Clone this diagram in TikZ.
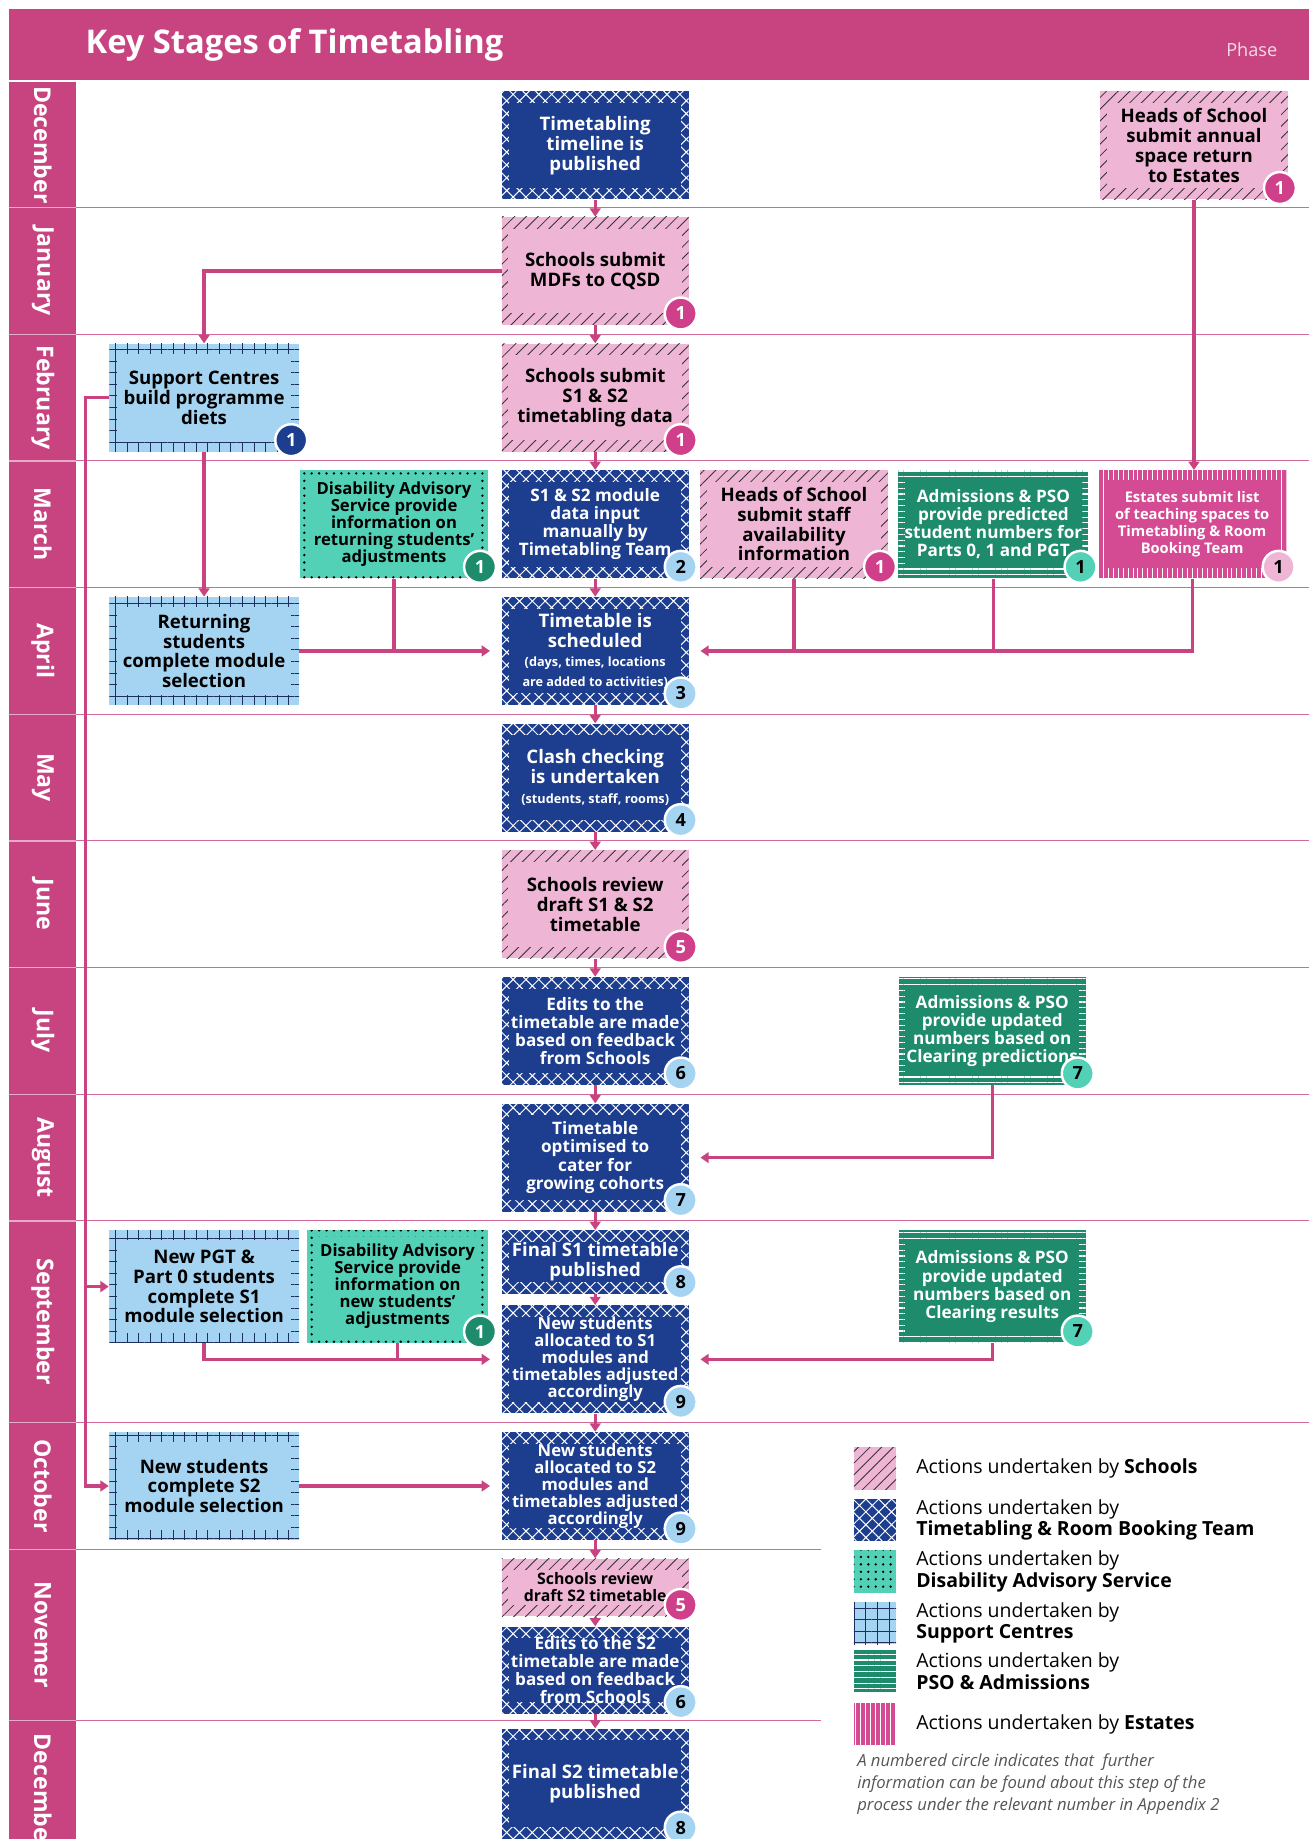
\documentclass[tikz,border=0pt]{standalone}
\usepackage{fontspec}
\setmainfont{Open Sans}
\usetikzlibrary{positioning,arrows.meta,patterns.meta}

\definecolor{headpink}{HTML}{C74480}
\definecolor{linkpink}{HTML}{C8437F}
\definecolor{ttblue}{HTML}{1D3E8E}
\definecolor{schoolpink}{HTML}{EEB6D4}
\definecolor{schoolbadge}{HTML}{D03F8A}
\definecolor{dasteal}{HTML}{52D1B7}
\definecolor{scblue}{HTML}{A4D4F1}
\definecolor{scline}{HTML}{1C2F5E}
\definecolor{psogreen}{HTML}{1E8C6C}
\definecolor{estpink}{HTML}{D44A93}
\definecolor{notegray}{HTML}{555555}

\newcommand\notefont{\fontsize{7.7}{8.6}\selectfont}

\tikzset{
  schoolpat/.style={pattern={Lines[angle=45,distance=5pt,line width=0.5pt]},pattern color=black!80},
  ttpat/.style={pattern={Hatch[angle=45,distance=5.5pt,line width=0.6pt]},pattern color=white},
  daspat/.style={pattern={Dots[distance=4.5pt,radius=0.8pt]},pattern color=black},
  scpat/.style={pattern={Hatch[angle=0,distance=7pt,line width=0.5pt]},pattern color=scline},
  psopat/.style={pattern={Lines[angle=0,distance=3.5pt,line width=0.7pt]},pattern color=white},
  estpat/.style={pattern={Lines[angle=90,distance=3pt,line width=0.6pt]},pattern color=white},
  banded/.style n args={4}{fill=#1,path picture={
    \path[#2] (path picture bounding box.south west) rectangle (path picture bounding box.north east);
    \fill[#1] ([shift={(#3,#4)}]path picture bounding box.south west) rectangle ([shift={(-#3,-#4)}]path picture bounding box.north east);}},
  stage/.style={rectangle,align=center,inner sep=1pt,minimum width=3.98cm,minimum height=2.3cm,
    font=\bfseries\fontsize{11.3}{12}\selectfont},
  dense/.style={font=\bfseries\fontsize{10.4}{11}\selectfont},
  tight/.style={font=\bfseries\fontsize{10.1}{10.3}\selectfont},
  slim/.style={font=\bfseries\fontsize{8.9}{10.4}\selectfont},
  schoolbox/.style={stage,banded={schoolpink}{schoolpat}{4pt}{7pt},text=black},
  ttbox/.style={stage,banded={ttblue}{ttpat}{4.5pt}{7pt},text=white},
  dasbox/.style={stage,banded={dasteal}{daspat}{4pt}{4pt},text=black},
  scbox/.style={stage,banded={scblue}{scpat}{5pt}{6pt},text=black},
  psobox/.style={stage,banded={psogreen}{psopat}{4pt}{6pt},text=white},
  estbox/.style={stage,banded={estpink}{estpat}{4pt}{6pt},text=white},
  badge/.style 2 args={circle,fill=#1,text=#2,draw=white,line width=1.5pt,minimum size=0.68cm,
    inner sep=0pt,font=\bfseries\fontsize{11}{11}\selectfont},
  link/.style={draw=linkpink,line width=2pt},
  flow/.style={link,-{Triangle[length=5pt,width=6.5pt]}},
  gap/.style={shorten >=7pt},
  rowline/.style={draw=linkpink!80,line width=0.6pt},
  month/.style={rotate=-90,text=white,font=\bfseries\fontsize{14}{14}\selectfont},
  swatch/.style={minimum size=0.9cm,inner sep=0pt},
  legtext/.style={anchor=west,align=left,font=\fontsize{11.8}{13}\selectfont}
}

\begin{document}
\begin{tikzpicture}[x=0.025cm,y=-0.025cm]
\useasboundingbox (0,0) rectangle (1116,1568);
% header and month band
\fill[headpink] (8,8) rectangle (1116,68);
\node[anchor=west,text=white,font=\bfseries\fontsize{19.8}{22}\selectfont] (title) at (68,38) {Key Stages of Timetabling};
\node[anchor=east,text=white!80!headpink,font=\fontsize{11}{11}\selectfont] (phase) at (1094,42) {Phase};
\fill[headpink] (8,70) rectangle (65,1568);
\foreach \mon/\top/\bot [count=\i] in {December/70/177,January/177/285,February/285/393,March/393/501,
    April/501/609,May/609/717,June/717/825,July/825/933,August/933/1041,September/1041/1213,
    October/1213/1321,Novemer/1321/1467,December/1467/1590}{
  \node[month] (month\i) at (36.5,{(\top+\bot)/2}) {\mon};
  \draw[white!55!headpink,line width=0.8pt] (8,\bot) -- (65,\bot);
}
\foreach \y in {177,285,393,501,609,717,825,933,1041,1213}
  \draw[rowline] (65,\y) -- (1116,\y);
\foreach \y in {1321,1467}
  \draw[rowline] (65,\y) -- (700,\y);

% main column
\node[ttbox] (pub) at (507.5,124) {Timetabling\\timeline is\\published};
\node[schoolbox] (mdf) at (507.5,231) {Schools submit\\MDFs to CQSD};
\node[schoolbox] (s1s2) at (507.5,339) {Schools submit\\S1 \& S2\\timetabling data};
\node[ttbox,dense] (modin) at (507.5,447) {S1 \& S2 module\\data input\\manually by\\Timetabling Team};
\node[ttbox] (sched) at (507.5,555) {Timetable is\\scheduled\\{\notefont (days, times, locations}\\{\notefont are added to activities)}};
\node[ttbox] (clash) at (507.5,663) {Clash checking\\is undertaken\\{\notefont (students, staff, rooms)}};
\node[schoolbox] (review1) at (507.5,771) {Schools review\\draft S1 \& S2\\timetable};
\node[ttbox,dense] (edits1) at (507.5,879) {Edits to the\\timetable are made\\based on feedback\\from Schools};
\node[ttbox,dense] (optim) at (507.5,987) {Timetable\\optimised to\\cater for\\growing cohorts};
\node[ttbox,minimum height=1.35cm] (finals1) at (507.5,1076) {Final S1 timetable\\published};
\node[ttbox,tight] (allocs1) at (507.5,1159) {New students\\allocated to S1\\modules and\\timetables adjusted\\accordingly};
\node[ttbox,tight] (allocs2) at (507.5,1267) {New students\\allocated to S2\\modules and\\timetables adjusted\\accordingly};
\node[schoolbox,font=\bfseries\fontsize{9.6}{10.3}\selectfont,minimum height=1.23cm] (review2) at (507.5,1353.5) {Schools review\\draft S2 timetable\hspace{6pt}};
\node[ttbox,dense,minimum height=1.85cm] (edits2) at (507.5,1424) {Edits to the S2\\timetable are made\\based on feedback\\from Schools};
\node[ttbox,minimum height=2.35cm] (finals2) at (507.5,1521) {Final S2 timetable\\published};

% left columns
\node[scbox,minimum width=4.05cm] (sc1) at (174,339) {Support Centres\\build programme\\diets};
\node[scbox,minimum width=4.05cm] (returning) at (174,555) {Returning\\students\\complete module\\selection};
\node[scbox,minimum width=4.05cm,minimum height=2.4cm] (newpgt) at (174,1097) {New PGT \&\\Part 0 students\\complete S1\\module selection};
\node[scbox,minimum width=4.05cm] (news2) at (174,1267) {New students\\complete S2\\module selection};
\node[dasbox,tight,minimum width=4cm] (das1) at (336,447) {Disability Advisory\\Service provide\\information on\\returning students'\\adjustments};
\node[dasbox,tight,minimum width=3.85cm,minimum height=2.4cm] (das2) at (339,1097) {Disability Advisory\\Service provide\\information on\\new students'\\adjustments};

% right columns
\node[schoolbox,minimum width=4cm] (annual) at (1018,124) {Heads of School\\submit annual\\space return\\to Estates};
\node[schoolbox,minimum width=4cm] (hosstaff) at (677,447) {Heads of School\\submit staff\\availability\\information};
\node[psobox,dense,minimum width=4.05cm] (pso1) at (847,447) {Admissions \& PSO\\provide predicted\\student numbers for\\Parts 0, 1 and PGT};
\node[estbox,slim,minimum width=4.02cm] (estates) at (1016.5,447) {Estates submit list\\of teaching spaces to\\Timetabling \& Room\\Booking Team};
\node[psobox,dense] (psojul) at (846,879) {Admissions \& PSO\\provide updated\\numbers based on\\Clearing predictions};
\node[psobox,dense,minimum height=2.4cm] (psosep) at (846,1097) {Admissions \& PSO\\provide updated\\numbers based on\\Clearing results};

% connectors
\draw[flow] (pub) -- (mdf);
\draw[flow] (mdf.west) -| (sc1.north);
\draw[flow] (annual.south) -- (annual.south |- estates.north);
\draw[flow] (sc1) -- (returning);
\coordinate (spine) at (73,0);
\draw[flow] (sc1.west) -- (sc1.west -| spine) |- (news2.west);
\draw[flow] (spine |- newpgt.west) -- (newpgt.west);
\draw[flow,gap] (returning.east) -- (sched.west);
\draw[link] (das1.south) -- (das1.south |- sched.west);
\draw[flow,gap] (estates.south) |- (sched.east);
\draw[link] (hosstaff.south) -- (hosstaff.south |- sched.east);
\draw[link] (pso1.south) -- (pso1.south |- sched.east);
\foreach \a/\b in {mdf/s1s2,s1s2/modin,modin/sched,sched/clash,clash/review1,review1/edits1,edits1/optim,
    optim/finals1,finals1/allocs1,allocs1/allocs2,allocs2/review2,review2/edits2,edits2/finals2}
  \draw[flow] (\a) -- (\b);
\draw[flow,gap] (psojul.south) |- (optim.east);
\draw[flow,gap] (newpgt.south) |- (allocs1.west);
\draw[link] (das2.south) -- (das2.south |- allocs1.west);
\draw[flow,gap] (psosep.south) |- (allocs1.east);
\draw[flow,gap] (news2.east) -- (allocs2.west);

% numbered circles
\foreach \nd/\num/\col/\ink in {mdf/1/schoolbadge/white,s1s2/1/schoolbadge/white,annual/1/schoolbadge/white,
    hosstaff/1/schoolbadge/white,review1/5/schoolbadge/white,review2/5/schoolbadge/white,
    sc1/1/ttblue/white,das1/1/psogreen/white,das2/1/psogreen/white,
    pso1/1/dasteal/black,psojul/7/dasteal/black,psosep/7/dasteal/black,estates/1/schoolpink/black,
    modin/2/scblue/black,sched/3/scblue/black,clash/4/scblue/black,edits1/6/scblue/black,
    optim/7/scblue/black,finals1/8/scblue/black,allocs1/9/scblue/black,allocs2/9/scblue/black,
    edits2/6/scblue/black,finals2/8/scblue/black}
  \node[badge={\col}{\ink}] (b-\nd) at ([shift={(-7,-10)}]\nd.south east) {\num};

% legend
\node[swatch,fill=schoolpink,postaction={schoolpat}] (lg-school) at (746,1252) {};
\node[legtext,right=0.3cm of lg-school] (lt-school) {Actions undertaken by \textbf{Schools}};
\node[swatch,fill=ttblue,postaction={ttpat}] (lg-tt) at (746,1296) {};
\node[legtext,right=0.3cm of lg-tt] (lt-tt) {Actions undertaken by\\\textbf{Timetabling \& Room Booking Team}};
\node[swatch,fill=dasteal,postaction={daspat}] (lg-das) at (746,1340) {};
\node[legtext,right=0.3cm of lg-das] (lt-das) {Actions undertaken by\\\textbf{Disability Advisory Service}};
\node[swatch,fill=scblue,postaction={scpat}] (lg-sc) at (746,1384) {};
\node[legtext,right=0.3cm of lg-sc] (lt-sc) {Actions undertaken by\\\textbf{Support Centres}};
\node[swatch,fill=psogreen,postaction={psopat}] (lg-pso) at (746,1425) {};
\node[legtext,right=0.3cm of lg-pso] (lt-pso) {Actions undertaken by\\\textbf{PSO \& Admissions}};
\node[swatch,fill=estpink,postaction={estpat}] (lg-est) at (746,1470) {};
\node[legtext,right=0.3cm of lg-est] (lt-est) {Actions undertaken by \textbf{Estates}};
\node[anchor=north west,align=left,text=notegray,font=\itshape\fontsize{10.1}{13.4}\selectfont] (note) at (726,1490)
  {A numbered circle indicates that \ further\\information can be found about this step of the\\process under the relevant number in Appendix 2};
\end{tikzpicture}
\end{document}
